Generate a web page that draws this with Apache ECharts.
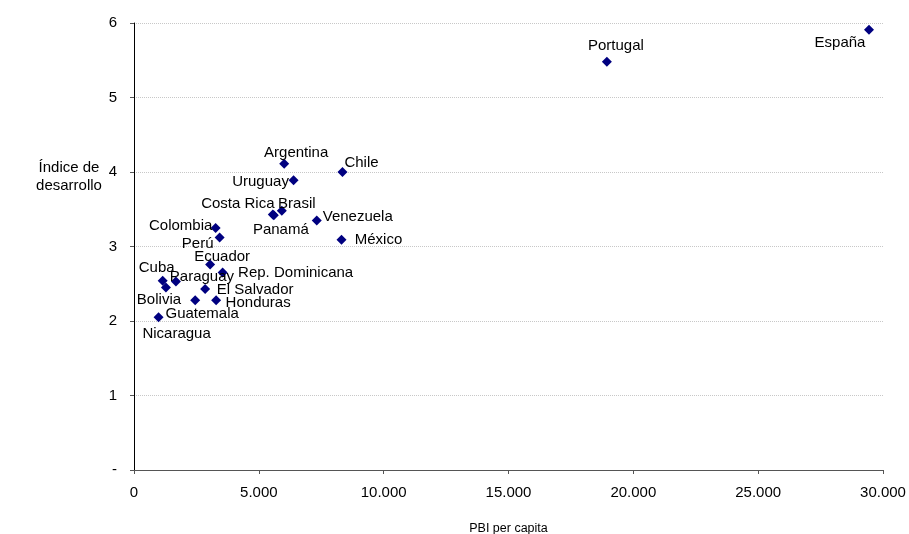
<!DOCTYPE html>
<html>
<head>
<meta charset="utf-8">
<script src="https://cdn.jsdelivr.net/npm/echarts@6/dist/echarts.min.js"></script>
<style>html,body{margin:0;padding:0;background:#fff}#c{width:909px;height:534px}</style>
</head>
<body>
<div id="c"></div>
<script>
const countries = ["España","Portugal","Argentina","Chile","Uruguay","Costa Rica","Panamá","Brasil","Venezuela","Colombia","México","Perú","Ecuador","Rep. Dominicana","Cuba","Paraguay","Bolivia","El Salvador","Guatemala","Honduras","Nicaragua"];
const pbi = [29440,18940,6015,8350,6390,5560,5600,5920,7320,3270,8310,3430,3050,3550,1150,1680,1280,2850,2450,3290,985];
const indice = [5.91,5.48,4.11,4.00,3.89,3.43,3.42,3.48,3.35,3.25,3.09,3.12,2.76,2.65,2.54,2.53,2.45,2.43,2.28,2.28,2.05];
const xTicks = [0,5000,10000,15000,20000,25000,30000];
const yTicks = [0,1,2,3,4,5,6];

// label placement (pixels, relative to the marker centre)
const labelOffsets = {
  "España":[-29,13],"Portugal":[9,-16],"Argentina":[12,-11],"Chile":[19,-9],"Uruguay":[-33,2],
  "Costa Rica":[-35,-11],"Panamá":[7,15],"Brasil":[15,-7],"Venezuela":[41,-4],"Colombia":[-35,-2],
  "México":[37,0],"Perú":[-22,6],"Ecuador":[12,-8],"Rep. Dominicana":[73,0],"Cuba":[-6,-13],
  "Paraguay":[26,-5],"Bolivia":[-7,12],"El Salvador":[50,1],"Guatemala":[7,14],"Honduras":[42,3],
  "Nicaragua":[18,17]
};

const fmtNum = v => String(v).replace(/\B(?=(\d{3})+(?!\d))/g, '.');
const FONT = 'Liberation Sans, Arial, sans-serif';

const data = countries.map((n,i)=>({
  name:n, value:[pbi[i], indice[i]],
  label:{show:true, position:'inside', offset:labelOffsets[n], formatter:n,
         color:'#000', fontSize:15, fontFamily:FONT}
}));

const chart = echarts.init(document.getElementById('c'), null, {renderer:'canvas'});
chart.setOption({
  animation:false,
  grid:{left:134, top:23, width:749, height:447, containLabel:false, outerBoundsMode:'none'},
  xAxis:{
    type:'value', min:xTicks[0], max:xTicks[xTicks.length-1], interval:5000,
    name:'PBI per capita', nameLocation:'middle', nameGap:52,
    nameTextStyle:{color:'#000', fontSize:12.5, fontFamily:FONT},
    axisLine:{show:true, lineStyle:{color:'#555', width:1}},
    axisTick:{show:true, length:4, inside:false, lineStyle:{color:'#555'}},
    axisLabel:{margin:15, color:'#000', fontSize:15, fontFamily:FONT, formatter:fmtNum},
    splitLine:{show:false}
  },
  yAxis:{
    type:'value', min:yTicks[0], max:yTicks[yTicks.length-1], interval:1,
    axisLine:{show:true, onZero:false, lineStyle:{color:'#000', width:1}},
    axisTick:{show:true, length:4, lineStyle:{color:'#555'}},
    axisLabel:{margin:17, color:'#000', fontSize:15, fontFamily:FONT,
               formatter:v=> v===0 ? '-' : String(v)},
    splitLine:{show:true, lineStyle:{color:'#c8c8c8', type:[1,1], width:1}}
  },
  graphic:[{
    type:'text',
    style:{text:'Índice de\ndesarrollo', x:69, y:177, align:'center', verticalAlign:'middle',
           fill:'#000', fontSize:15, lineHeight:18, fontFamily:FONT}
  }],
  series:[{
    type:'scatter', symbol:'diamond', symbolSize:10,
    itemStyle:{color:'#000080', opacity:1},
    data:data
  }]
});
</script>
</body>
</html>
